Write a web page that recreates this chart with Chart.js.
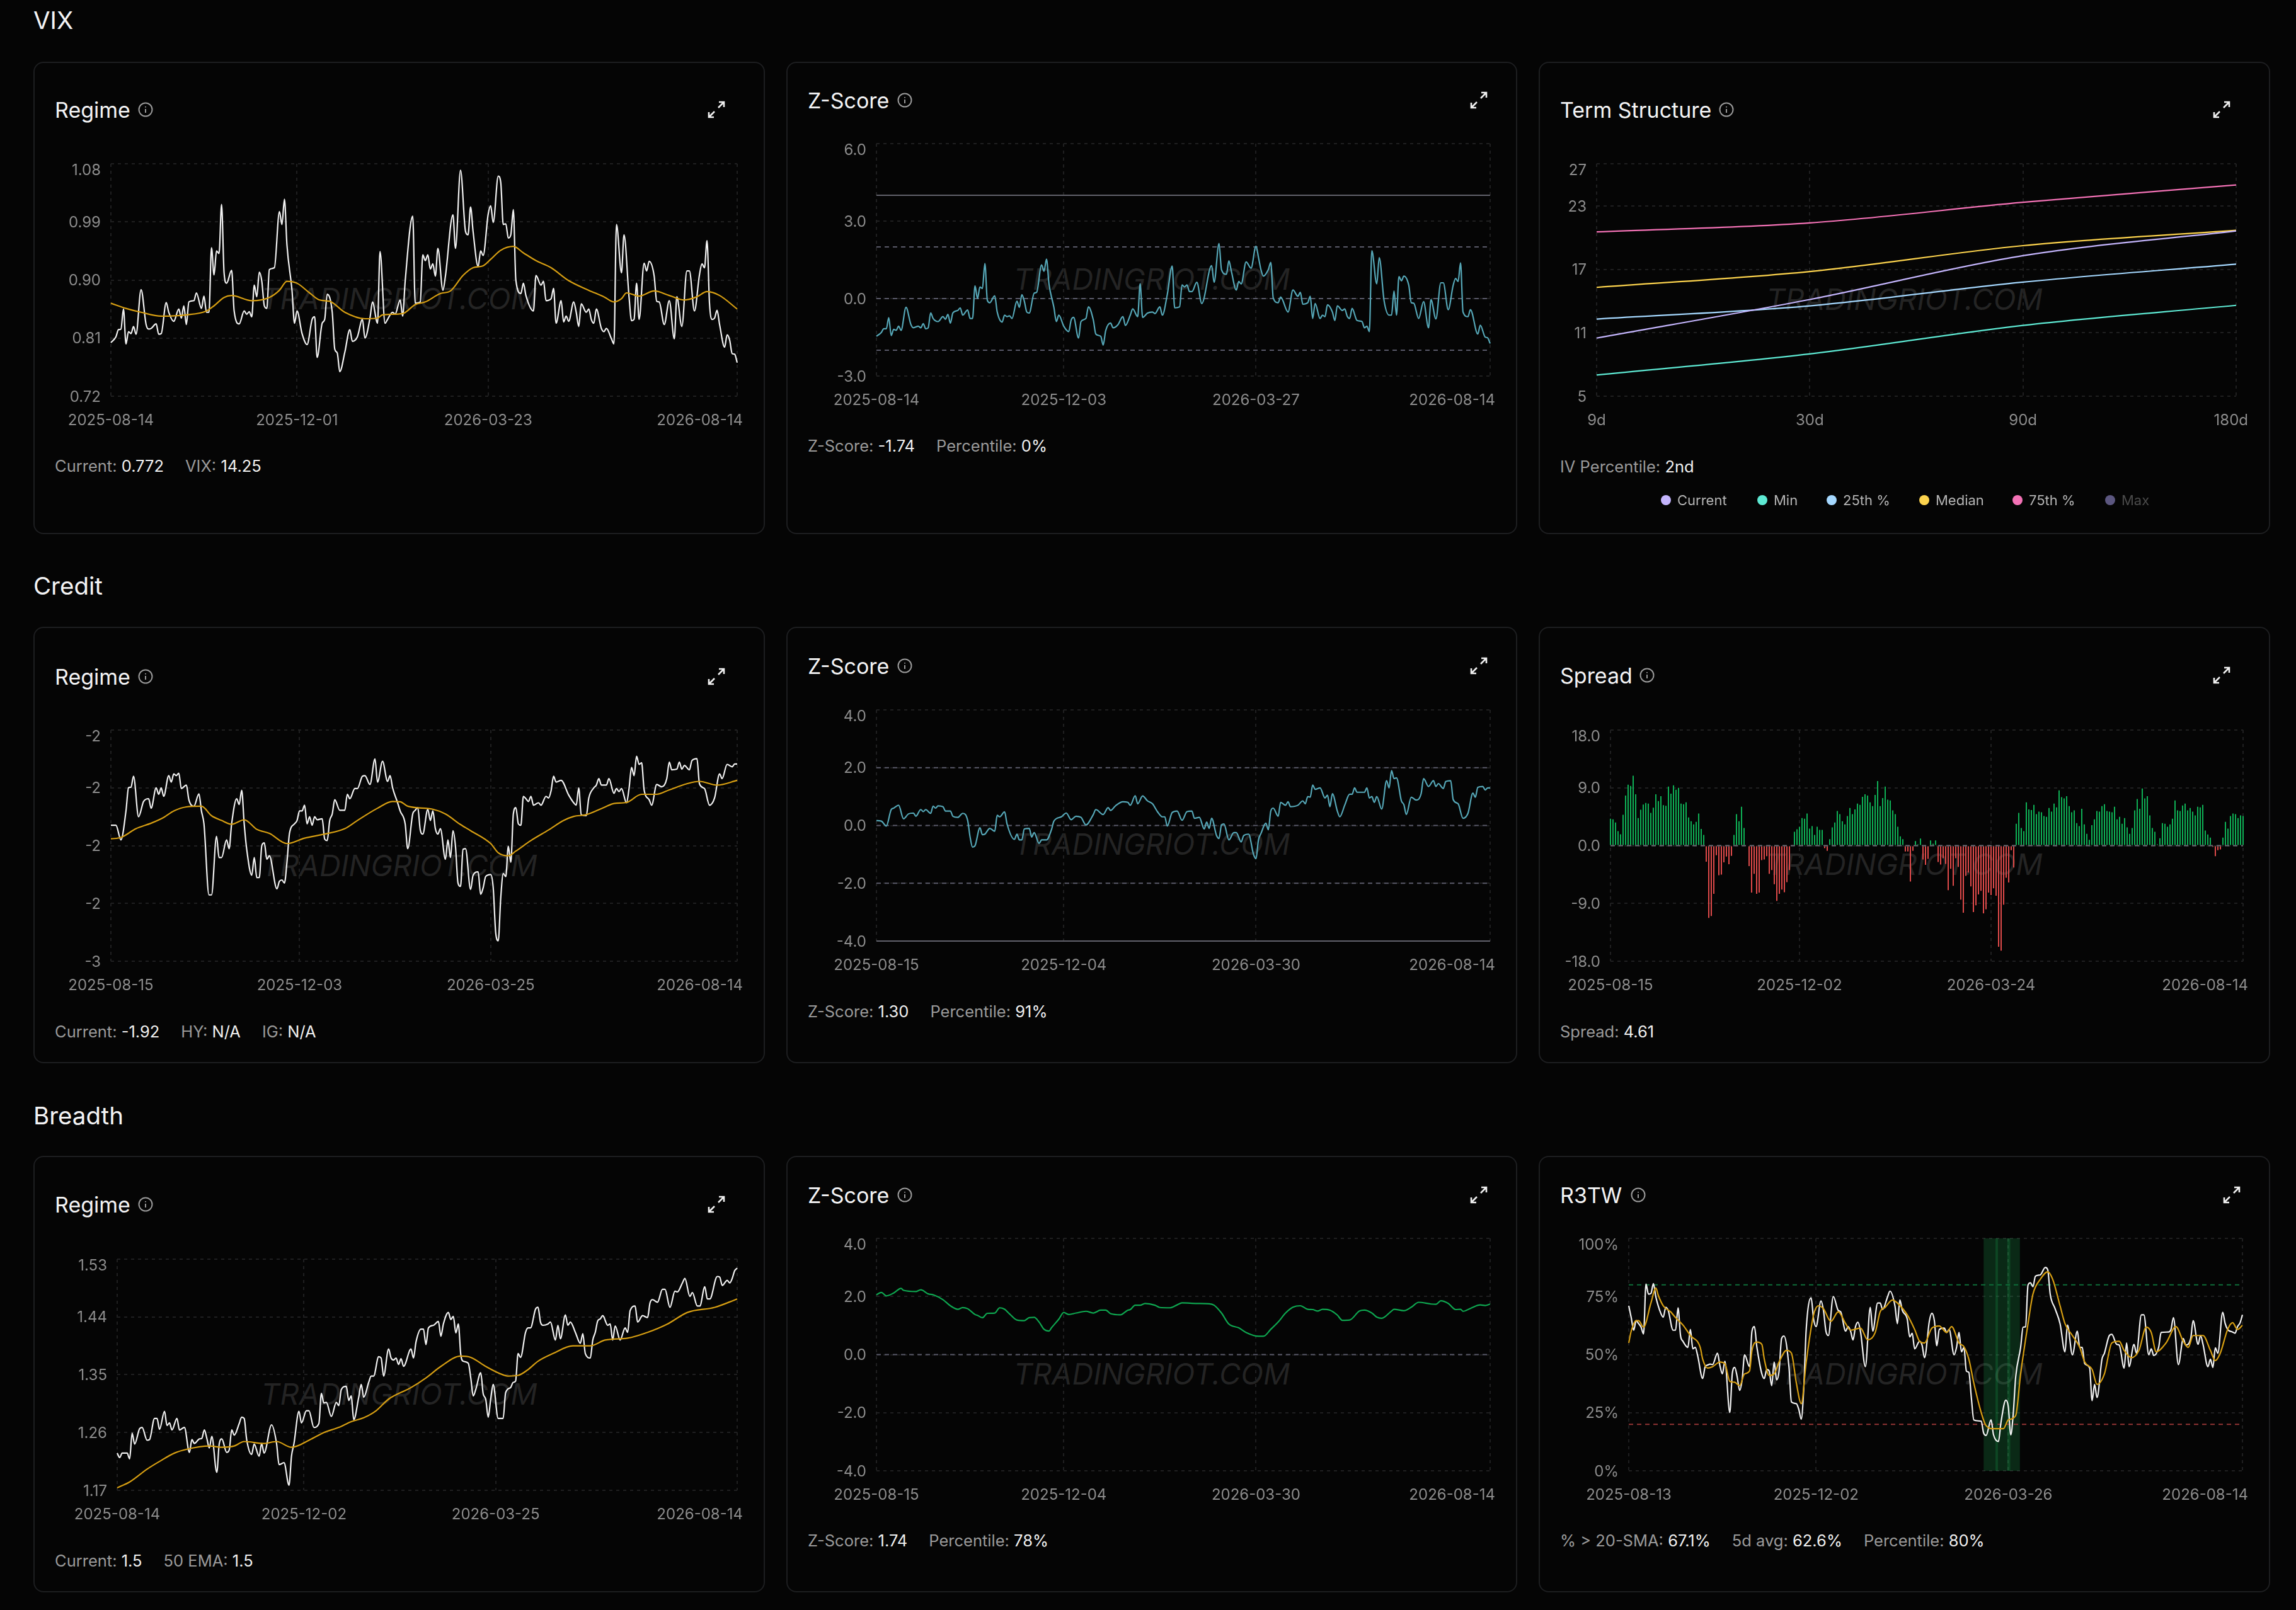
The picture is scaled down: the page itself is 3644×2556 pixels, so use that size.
<!DOCTYPE html>
<html>
<head>
<meta charset="utf-8">
<title>Market Regime</title>
<script src="https://cdn.jsdelivr.net/npm/chart.js@4/dist/chart.umd.js"></script>
<style>
html, body { margin: 0; padding: 0; background: #050505; font-family: Inter, "Noto Sans", sans-serif; }
#page { position: relative; width: 3644px; height: 2556px; overflow: hidden; }
.section { position: absolute; left: 53px; color: #f4f4f5; font-size: 38.5px; line-height: 44px; transform: translateY(-50%); }
.card { position: absolute; box-sizing: border-box; box-shadow: inset 0 0 0 2px #1d1e20; border-radius: 16px; }
.card canvas { position: absolute; left: 0; top: 0; }
.title { position: absolute; color: #f4f4f5; font-size: 34px; line-height: 40px; transform: translateY(-50%); white-space: nowrap; }
.info, .expand { position: absolute; transform: translate(-50%, -50%); }
.footer { position: absolute; color: #9a9a9a; font-size: 25.5px; line-height: 30px; transform: translateY(-50%); white-space: nowrap; }
.footer span { margin-right: 34px; }
.footer b { font-weight: 400; color: #f0f0f0; }
.mark { position: absolute; color: rgba(255,255,255,0.13); font-size: 46.8px; font-style: italic; white-space: nowrap; transform: translate(-50%, -50%); }
.legend { position: absolute; color: #b4b4b4; font-size: 22px; line-height: 28px; transform: translateY(-50%); white-space: nowrap; }
.dot { position: absolute; width: 16px; height: 16px; border-radius: 50%; transform: translate(-50%, -50%); }
</style>
</head>
<body>
<div id="page"></div>
<script>
const vixRegime = [[0,.803],[2,.812],[3,.823],[4,.824],[5,.855],[6,.801],[7,.82],[8,.817],[9,.828],[10,.816],[12,.885],[14,.831],[15,.824],[16,.825],[18,.832],[19,.816],[20,.817],[22,.865],[23,.85],[25,.836],[27,.855],[28,.841],[29,.86],[30,.831],[31,.866],[33,.868],[34,.88],[36,.856],[37,.875],[38,.85],[39,.85],[40,.95],[41,.908],[42,.945],[43,.941],[44,1.017],[45,.911],[46,.895],[48,.915],[49,.852],[51,.832],[53,.852],[54,.847],[55,.851],[56,.843],[57,.892],[58,.874],[59,.912],[60,.898],[61,.86],[62,.856],[63,.916],[65,.919],[67,1.006],[68,.986],[69,1.025],[70,.954],[72,.884],[73,.833],[74,.852],[76,.817],[78,.8],[80,.839],[81,.843],[82,.78],[84,.833],[85,.839],[86,.878],[88,.85],[89,.793],[90,.787],[91,.758],[93,.788],[95,.823],[96,.805],[98,.812],[100,.839],[101,.81],[103,.841],[104,.866],[106,.833],[107,.944],[109,.833],[110,.839],[112,.85],[113,.847],[115,.869],[116,.844],[117,.898],[120,.999],[121,.864],[123,.866],[124,.939],[125,.93],[126,.939],[127,.917],[128,.925],[129,.906],[130,.949],[132,.884],[133,.906],[136,1.001],[137,.949],[139,1.07],[141,.975],[142,.97],[143,1.013],[144,.975],[146,.921],[147,.945],[148,.938],[150,1.002],[151,1.015],[152,.989],[154,1.061],[155,1.051],[156,.986],[157,.987],[158,.965],[159,.97],[160,1.009],[161,.9],[163,.879],[164,.895],[165,.876],[168,.852],[169,.907],[171,.892],[172,.898],[173,.868],[175,.871],[176,.887],[177,.833],[179,.868],[180,.835],[181,.844],[182,.836],[184,.866],[185,.85],[186,.828],[187,.863],[189,.85],[190,.855],[191,.839],[192,.833],[193,.855],[195,.825],[196,.82],[197,.825],[199,.809],[200,.801],[201,.986],[203,.911],[204,.97],[206,.874],[207,.837],[208,.839],[209,.895],[210,.839],[212,.926],[213,.914],[214,.929],[216,.906],[217,.867],[218,.866],[220,.831],[222,.868],[224,.809],[225,.874],[227,.828],[229,.914],[230,.914],[232,.852],[234,.908],[235,.925],[236,.919],[237,.961],[238,.863],[239,.839],[240,.841],[241,.853],[242,.831],[244,.796],[245,.815],[246,.807],[247,.786],[248,.785],[249,.772]];
const vixEma = [[0,.864],[6,.856],[12,.85],[20,.844],[30,.846],[38,.852],[41,.86],[45,.873],[48,.876],[56,.868],[63,.873],[67,.884],[70,.898],[74,.895],[79,.88],[83,.869],[87,.867],[93,.85],[101,.84],[106,.841],[108,.846],[116,.848],[121,.862],[125,.866],[131,.879],[135,.883],[140,.907],[144,.919],[148,.922],[151,.932],[155,.946],[160,.952],[164,.942],[169,.93],[175,.919],[182,.899],[190,.884],[196,.874],[200,.866],[203,.871],[205,.88],[210,.875],[216,.883],[222,.876],[228,.869],[233,.874],[237,.882],[242,.876],[249,.855]];
const vixZ = [[0,-1.46],[2,-1.31],[3,-1.17],[4,-1.17],[5,-.74],[6,-1.43],[7,-1.19],[8,-1.23],[9,-1.07],[10,-1.23],[12,-.34],[14,-1.01],[15,-1.13],[17,-1.07],[18,-1.13],[19,-.97],[20,-1.17],[21,-1.13],[22,-.56],[23,-.77],[25,-.89],[27,-.7],[28,-.8],[29,-.61],[30,-.95],[31,-.56],[33,-.46],[34,-.36],[35,-.64],[37,-.44],[38,-.77],[39,-.77],[40,.49],[41,0],[42,.45],[43,.39],[44,1.36],[45,-.07],[46,-.16],[48,.11],[49,-.52],[51,-.91],[52,-.64],[53,-.7],[54,-.67],[55,-.77],[57,-.1],[58,-.34],[59,.15],[60,-.1],[61,-.52],[62,-.56],[64,.21],[65,.24],[67,1.3],[68,1.06],[69,1.53],[70,.57],[72,-.34],[73,-.89],[74,-.64],[76,-1.07],[78,-1.28],[79,-.83],[80,-.73],[82,-1.53],[83,-.89],[85,-.77],[86,-.32],[88,-.83],[89,-1.37],[91,-1.46],[92,-1.8],[93,-1.25],[95,-.95],[96,-1.13],[98,-1.01],[100,-.7],[101,-1.04],[103,-.64],[104,-.4],[106,-.7],[107,.57],[108,-.73],[110,-.56],[112,-.52],[113,-.58],[115,-.32],[116,-.64],[118,.15],[120,1.26],[121,-.36],[123,-.32],[124,.53],[125,.45],[126,.53],[127,.27],[128,.27],[130,.63],[132,-.19],[136,1.28],[137,.63],[139,2.13],[140,1.12],[142,.94],[143,1.46],[144,1.06],[146,.33],[147,.66],[148,.57],[150,1.42],[152,1.18],[154,2.03],[155,1.6],[156,1.12],[157,.87],[159,1.12],[160,1.4],[161,.02],[163,-.16],[164,.06],[167,-.52],[169,.33],[171,.09],[172,.24],[173,-.22],[175,-.16],[176,.09],[177,-.77],[178,-.19],[180,-.77],[181,-.64],[182,-.7],[183,-.24],[185,-.52],[186,-.85],[187,-.28],[189,-.46],[190,-.4],[191,-.68],[192,-.77],[193,-.38],[195,-.85],[197,-.89],[198,-1.13],[199,-1.07],[200,-1.28],[201,1.85],[203,.57],[204,1.58],[206,-.1],[208,-.64],[209,-.64],[210,.29],[211,-.64],[212,.85],[213,.69],[214,.87],[216,.51],[217,-.16],[218,-.18],[220,-.77],[222,-.12],[224,-1.13],[225,-.04],[227,-.79],[229,.61],[230,.61],[232,-.43],[234,.51],[235,.78],[236,.66],[237,1.38],[238,-.52],[240,-.7],[241,-.43],[244,-1.37],[245,-1.03],[247,-1.49],[248,-1.52],[249,-1.74]];

const termLabels = ["9d", "30d", "90d", "180d"];
const termCurrent = [10.5, 14.15, 18.3, 20.64];
const termMin = [7.0, 9.0, 11.7, 13.6];
const term25 = [12.3, 13.55, 15.8, 17.5];
const termMedian = [15.3, 16.8, 19.25, 20.7];
const term75 = [20.55, 21.4, 23.35, 25.0];

const creditRegime = [[0,-2.1],[2,-2.1],[4,-2.143],[6,-2.058],[7,-1.99],[8,-1.988],[9,-1.956],[11,-2.075],[13,-2.03],[15,-2.022],[16,-2.05],[18,-1.99],[19,-2.009],[20,-1.99],[21,-2.015],[23,-1.954],[24,-1.973],[25,-1.949],[26,-1.954],[27,-1.947],[28,-1.992],[30,-1.982],[31,-2.025],[33,-2.044],[35,-2.008],[36,-2.058],[37,-2.096],[39,-2.305],[40,-2.305],[42,-2.133],[43,-2.195],[44,-2.195],[46,-2.143],[47,-2.169],[48,-2.096],[50,-2.022],[51,-2.039],[52,-1.997],[53,-2.096],[54,-2.171],[56,-2.247],[57,-2.195],[58,-2.254],[59,-2.254],[60,-2.16],[61,-2.152],[62,-2.2],[63,-2.19],[66,-2.287],[67,-2.265],[68,-2.261],[69,-2.27],[70,-2.209],[71,-2.124],[73,-2.096],[74,-2.086],[75,-2.058],[76,-2.058],[77,-2.041],[78,-2.096],[79,-2.075],[80,-2.1],[81,-2.075],[82,-2.084],[84,-2.081],[85,-2.141],[86,-2.145],[87,-2.086],[88,-2.067],[89,-2.025],[91,-2.056],[93,-2.056],[94,-2.009],[95,-2.022],[97,-1.992],[98,-1.992],[100,-1.956],[101,-1.954],[103,-1.98],[105,-1.905],[106,-1.973],[108,-1.912],[110,-1.971],[111,-1.954],[112,-1.99],[114,-2.034],[115,-2.058],[117,-2.096],[118,-2.169],[120,-2.067],[121,-2.056],[122,-2.048],[123,-2.114],[124,-2.126],[126,-2.053],[127,-2.086],[128,-2.058],[129,-2.11],[130,-2.126],[131,-2.11],[133,-2.2],[134,-2.143],[135,-2.195],[136,-2.116],[137,-2.162],[138,-2.27],[139,-2.28],[140,-2.171],[141,-2.169],[143,-2.289],[144,-2.247],[146,-2.237],[147,-2.303],[148,-2.284],[149,-2.251],[151,-2.245],[152,-2.284],[153,-2.417],[154,-2.44],[155,-2.313],[156,-2.242],[157,-2.251],[158,-2.162],[159,-2.209],[160,-2.067],[161,-2.048],[162,-2.096],[163,-2.1],[164,-2.015],[165,-2.022],[166,-2.03],[167,-2.015],[168,-2.041],[170,-2.034],[171,-2.041],[173,-2.015],[174,-2.02],[175,-1.999],[176,-1.956],[177,-1.973],[179,-1.968],[182,-2.011],[184,-2.034],[185,-2.041],[186,-1.99],[187,-2.069],[189,-2.072],[190,-2.02],[192,-1.99],[193,-1.982],[194,-1.963],[195,-1.982],[197,-1.982],[198,-1.963],[200,-2.006],[201,-1.992],[202,-2.001],[203,-1.992],[205,-2.034],[206,-1.992],[207,-1.93],[208,-1.954],[209,-1.897],[210,-1.921],[211,-1.916],[212,-1.996],[214,-2.025],[215,-2.041],[217,-1.98],[219,-1.987],[221,-1.963],[222,-1.914],[223,-1.937],[225,-1.935],[226,-1.914],[227,-1.935],[228,-1.924],[230,-1.937],[231,-1.91],[233,-1.904],[234,-1.978],[236,-1.992],[238,-2.041],[240,-2.02],[242,-1.949],[243,-1.963],[245,-1.921],[247,-1.928],[248,-1.92],[249,-1.92]];
const creditEma = [[0,-2.14],[4,-2.136],[10,-2.11],[16,-2.094],[21,-2.077],[25,-2.058],[30,-2.046],[36,-2.044],[40,-2.072],[44,-2.086],[48,-2.097],[53,-2.084],[58,-2.112],[63,-2.124],[70,-2.154],[77,-2.138],[85,-2.126],[93,-2.11],[98,-2.086],[106,-2.05],[112,-2.03],[115,-2.031],[118,-2.044],[128,-2.053],[133,-2.067],[139,-2.098],[143,-2.116],[151,-2.154],[154,-2.181],[158,-2.19],[161,-2.176],[167,-2.145],[174,-2.114],[180,-2.086],[184,-2.074],[189,-2.069],[196,-2.048],[200,-2.036],[205,-2.033],[211,-2.009],[217,-2.009],[222,-1.996],[229,-1.978],[234,-1.971],[241,-1.982],[249,-1.968]];
const creditZ = [[0,.17],[2,.15],[4,-.02],[6,.55],[7,.6],[9,.7],[11,.23],[13,.4],[15,.43],[16,.32],[18,.55],[19,.48],[20,.55],[22,.42],[23,.67],[24,.6],[25,.68],[27,.65],[28,.5],[30,.5],[31,.32],[33,.28],[35,.42],[37,.18],[38,-.4],[39,-.75],[40,-.7],[42,-.08],[43,-.32],[44,-.3],[46,-.1],[48,-.2],[49,.35],[50,.3],[52,.47],[53,.05],[56,-.48],[57,-.3],[58,-.5],[59,-.5],[60,-.12],[62,-.1],[63,-.4],[64,-.25],[66,-.62],[67,-.5],[69,-.5],[71,-.15],[72,.15],[75,.3],[77,.43],[79,.2],[81,.32],[83,.28],[85,.02],[88,.38],[89,.55],[92,.38],[94,.62],[95,.52],[97,.68],[100,.82],[102,.8],[103,.7],[105,1.03],[106,.75],[108,1.02],[110,.85],[112,.75],[114,.48],[116,.3],[117,.3],[118,-.02],[120,.45],[122,.5],[124,.18],[126,.48],[128,.5],[129,.25],[131,.28],[133,-.12],[134,.12],[135,-.1],[136,.25],[138,-.35],[139,-.45],[140,.02],[141,.05],[143,-.5],[145,-.25],[146,-.25],[148,-.57],[149,-.35],[151,-.3],[153,-1],[154,-1.15],[155,-.5],[156,-.28],[158,.08],[159,-.15],[160,.5],[161,.6],[163,.32],[164,.8],[166,.7],[167,.82],[168,.65],[171,.7],[173,.85],[174,.75],[175,1],[176,.98],[177,1.4],[178,1.25],[180,1.3],[182,.95],[183,1.05],[184,.65],[185,1.1],[187,.5],[188,.3],[190,.7],[192,1.08],[193,1.08],[194,1.3],[195,1.15],[198,1.15],[199,1.3],[200,.95],[201,1],[202,.8],[203,1],[205,.57],[207,1.55],[208,1.3],[209,1.9],[210,1.62],[211,1.65],[213,.85],[214,.72],[215,.38],[217,.98],[219,.88],[221,1.1],[222,1.62],[224,1.35],[226,1.55],[227,1.35],[228,1.45],[230,1.28],[231,1.52],[233,1.55],[234,.9],[236,.75],[238,.25],[240,.42],[242,1.12],[243,.98],[244,1.32],[246,1.35],[247,1.23],[248,1.3],[249,1.3]];
const spreadValues = [4.2,4.1,3.6,2.25,1.76,4.8,7.8,9.5,9.3,10.9,8,4.3,5.6,6.4,6.65,6.55,5.1,5.9,8,6.95,7.7,6.3,6.2,9.2,8.1,9.4,8.7,9,6.55,6.45,6.75,4.4,3.8,3.3,3.7,5,2.6,1.66,-2.5,-11.25,-10.95,-7.5,-1.5,-4.6,-4.5,-2.6,-1.7,-2.9,-1.6,1.66,4.9,3.8,6.05,2.75,0,-3.2,-7.3,-4.4,-7.5,-7.3,-2.25,-2.15,-1.65,-4.4,-3.8,-6,-8.6,-7.5,-6.85,-7.25,-5.7,-3.8,0,2.15,2.55,2.95,4.3,4.2,5,2.65,3.05,1.66,2.95,2.45,2.45,-.4,-.8,1,2.85,3.6,5.4,4.9,3.8,3.3,4.6,5.85,4.9,5.65,6.55,6.35,7.6,8,7.8,6.75,6.15,7.9,10.05,6.15,7.4,9.2,7.15,7.05,5.5,4.9,2.95,1.45,1,-.9,-.9,-5.6,-.8,.7,.2,1.1,-2.15,-3,-2.05,.8,.3,.8,-2.55,-2.95,-1.95,-2.85,-6.95,-3.6,-6.25,-1.95,-3.3,-8.4,-10.45,-4.7,-4.2,-6.35,-10.35,-9.3,-7.6,-7.05,-10.55,-9.9,-7.3,-7.7,-6.65,-7.8,-15.75,-16.35,-9.2,-5,-5.75,-.7,-3.4,3.4,5.1,2.75,2.25,6.75,5.65,5.55,6.35,4.9,5.3,5.2,4.6,4.5,5.85,5.3,6.55,5.95,8.6,7.55,7.35,7.7,6.15,5.2,5.5,3.5,3.05,5.75,3.3,1.85,.9,3.2,4.1,5.4,5.3,6.15,6.45,5.4,5.3,5.2,6.05,4.1,4.5,3.4,4.3,2.85,1.85,2.75,5.5,7.25,5.75,8.9,7.35,7.7,4.7,2.75,2.15,.2,1.15,3.5,3.4,2.95,3.3,4.2,7.05,5.5,5.4,6.25,6.55,5.5,5.85,5.3,4.7,6.05,5.95,6.35,2.35,1.75,1.25,-.2,-1.65,-.7,-.6,1.25,3.7,2.65,4.6,5,4.9,4.3,4.7,4.61];

const breadthRegime = [[0,1.228],[1,1.221],[2,1.228],[4,1.228],[5,1.219],[6,1.259],[7,1.242],[9,1.266],[10,1.268],[12,1.248],[13,1.249],[15,1.282],[16,1.282],[17,1.265],[19,1.293],[20,1.271],[21,1.275],[22,1.264],[24,1.282],[25,1.264],[27,1.268],[29,1.229],[30,1.249],[31,1.243],[33,1.25],[34,1.251],[35,1.264],[36,1.251],[37,1.236],[38,1.254],[40,1.198],[41,1.243],[42,1.25],[44,1.229],[45,1.233],[46,1.264],[47,1.256],[49,1.274],[50,1.284],[51,1.282],[52,1.249],[54,1.226],[55,1.242],[57,1.223],[58,1.243],[59,1.228],[62,1.272],[64,1.243],[65,1.21],[67,1.213],[69,1.178],[70,1.223],[71,1.243],[73,1.293],[74,1.275],[76,1.294],[77,1.294],[79,1.268],[81,1.274],[82,1.321],[83,1.306],[84,1.307],[86,1.285],[88,1.307],[89,1.302],[90,1.327],[92,1.332],[93,1.31],[94,1.317],[95,1.28],[97,1.315],[98,1.335],[99,1.315],[101,1.338],[102,1.348],[103,1.348],[105,1.378],[106,1.376],[107,1.348],[109,1.39],[110,1.376],[111,1.373],[112,1.376],[113,1.366],[114,1.375],[115,1.363],[118,1.39],[119,1.376],[120,1.401],[122,1.421],[123,1.421],[124,1.397],[125,1.423],[127,1.427],[129,1.433],[130,1.41],[131,1.429],[133,1.447],[134,1.436],[135,1.441],[136,1.415],[137,1.429],[138,1.381],[139,1.371],[141,1.368],[142,1.345],[143,1.317],[144,1.327],[146,1.353],[147,1.32],[148,1.312],[149,1.284],[150,1.312],[151,1.335],[153,1.282],[155,1.282],[156,1.322],[158,1.33],[159,1.338],[160,1.34],[161,1.383],[162,1.377],[164,1.416],[165,1.423],[166,1.423],[168,1.452],[169,1.455],[170,1.432],[171,1.427],[173,1.429],[174,1.432],[176,1.404],[177,1.427],[178,1.406],[180,1.443],[181,1.427],[182,1.432],[184,1.416],[186,1.399],[187,1.414],[188,1.383],[190,1.376],[191,1.404],[192,1.416],[193,1.434],[194,1.437],[195,1.442],[197,1.427],[198,1.429],[199,1.404],[200,1.426],[202,1.404],[204,1.423],[205,1.416],[206,1.45],[208,1.457],[209,1.432],[211,1.442],[213,1.439],[214,1.462],[215,1.467],[217,1.463],[219,1.483],[220,1.483],[222,1.455],[224,1.48],[225,1.479],[227,1.493],[228,1.5],[230,1.472],[231,1.478],[233,1.457],[234,1.457],[236,1.487],[237,1.468],[238,1.468],[241,1.503],[242,1.502],[243,1.489],[245,1.497],[246,1.493],[247,1.5],[248,1.512],[249,1.516]];
const breadthEma = [[0,1.174],[5,1.183],[12,1.203],[17,1.215],[23,1.228],[28,1.234],[37,1.239],[42,1.237],[47,1.239],[51,1.246],[59,1.243],[64,1.246],[70,1.237],[78,1.25],[83,1.26],[89,1.268],[94,1.277],[99,1.283],[104,1.294],[109,1.312],[118,1.33],[124,1.345],[130,1.363],[138,1.379],[142,1.377],[148,1.363],[153,1.353],[157,1.348],[161,1.349],[165,1.358],[169,1.371],[175,1.383],[183,1.395],[190,1.395],[196,1.404],[205,1.407],[213,1.416],[221,1.429],[229,1.447],[240,1.455],[249,1.468]];
const breadthZ = [[0,2.06],[2,2.14],[4,2.02],[7,2.12],[10,2.28],[11,2.21],[16,2.17],[18,2.23],[21,2.09],[23,2.06],[27,1.89],[30,1.68],[33,1.56],[35,1.62],[37,1.58],[40,1.38],[41,1.35],[43,1.27],[45,1.42],[48,1.43],[50,1.61],[52,1.56],[54,1.4],[57,1.19],[60,1.17],[62,1.27],[64,1.28],[66,1.12],[68,.87],[70,.81],[71,.92],[74,1.22],[76,1.45],[78,1.38],[81,1.43],[85,1.49],[88,1.43],[91,1.53],[93,1.53],[95,1.41],[99,1.37],[102,1.53],[103,1.55],[105,1.7],[107,1.7],[109,1.76],[113,1.7],[115,1.62],[119,1.61],[122,1.71],[124,1.78],[130,1.76],[135,1.75],[137,1.7],[140,1.43],[143,1.05],[147,.92],[150,.76],[155,.63],[157,.63],[160,.87],[163,1.12],[166,1.43],[169,1.63],[172,1.68],[175,1.56],[177,1.55],[179,1.5],[181,1.56],[184,1.53],[187,1.36],[189,1.18],[192,1.19],[196,1.5],[198,1.53],[201,1.43],[203,1.29],[205,1.25],[209,1.5],[210,1.56],[214,1.51],[217,1.63],[220,1.8],[225,1.74],[227,1.73],[229,1.85],[232,1.76],[235,1.55],[237,1.56],[238,1.49],[241,1.59],[245,1.71],[247,1.69],[249,1.74]];

const r3twPct = [[0,71],[1,65.9],[2,60.5],[3,64.6],[4,63.3],[5,61.8],[6,58.9],[7,80.3],[8,76],[9,76.3],[10,80.5],[11,74.8],[13,67.8],[14,66.1],[15,70.3],[16,69],[18,60.5],[19,60.5],[20,70.1],[21,58.2],[22,55.7],[24,53.1],[25,60.8],[26,52.5],[27,53.1],[28,49.3],[30,39.7],[31,44.8],[32,45.5],[33,45.9],[34,45.7],[36,50.6],[37,45.2],[38,41.7],[39,47.1],[41,25.1],[42,41.7],[43,44.5],[44,40.4],[45,34.6],[46,39.1],[47,49.9],[49,44.8],[50,60.1],[51,62],[52,53.1],[55,39.7],[56,43.6],[57,42.9],[58,36.6],[59,46.8],[60,39.1],[61,42.9],[62,56.9],[63,58],[65,44.8],[66,29.6],[68,28.9],[69,26.4],[70,22.2],[71,35.3],[72,60.8],[74,74.4],[75,65.2],[76,62],[78,73.1],[79,69],[80,60.1],[81,58.2],[83,75],[85,69],[86,68.4],[88,60.1],[89,62],[90,60.1],[91,56.3],[92,62],[93,63.9],[94,60.1],[96,44.8],[98,70.3],[99,60.1],[101,72.2],[102,72.2],[103,69.4],[105,74.8],[106,77.3],[108,71],[109,63.3],[110,73.5],[111,69],[113,65.2],[114,57.6],[115,59.2],[116,52.5],[118,55.7],[119,54.1],[120,48.7],[122,64.6],[123,67.8],[124,64.6],[125,53.8],[126,60.8],[128,61.4],[129,59.5],[130,60.8],[132,49.9],[133,53.1],[134,59.5],[135,51.2],[136,53.1],[137,42.9],[138,42.3],[139,31.5],[140,21.9],[143,21.3],[144,16.2],[145,15.2],[147,21.9],[148,15.5],[150,12.6],[151,20.6],[153,30.4],[154,27.6],[155,15.5],[156,24.5],[157,40.4],[159,53.1],[160,61.8],[161,62],[162,79.9],[163,80.9],[164,79.2],[165,83.7],[167,84.3],[169,87.5],[170,86.5],[171,76],[173,69.7],[175,63.3],[177,51.2],[178,62.7],[180,49.9],[182,60.1],[183,53.1],[184,53.1],[185,46.1],[187,44.2],[188,30.2],[189,37.2],[190,31.5],[192,48],[193,50.6],[195,58.2],[196,58.7],[198,54.4],[199,54.1],[201,44.2],[202,55],[203,44.8],[205,54.4],[206,50.6],[208,67.1],[209,67.1],[211,49.9],[212,52.5],[213,49.6],[215,53.1],[216,59.5],[219,59.7],[220,60.8],[221,65.9],[223,45.7],[225,56.9],[226,54.1],[228,56.9],[229,64.6],[231,54.4],[232,58.2],[233,54.4],[235,44.8],[236,48],[237,44.5],[238,52.9],[239,50.6],[241,68.2],[242,63.3],[243,60.8],[245,59.7],[246,59.2],[247,62],[248,63.6],[249,67.1]];
const r3twAvg = [[0,55],[1,60.1],[3,64.6],[4,64.6],[6,61.8],[9,72.2],[11,78.6],[12,75.4],[14,71],[17,68.4],[19,65.9],[22,62.7],[25,58.2],[29,53.1],[30,48],[32,44.2],[34,44.8],[37,46.8],[39,46.1],[41,38.5],[43,38.1],[45,36.6],[47,41.7],[49,42.9],[50,51.8],[52,55.4],[54,54.4],[55,48],[57,41],[59,41.7],[61,46.8],[64,51.8],[66,50.6],[68,37.8],[70,28.9],[72,46.8],[75,67.1],[77,71],[79,69.7],[82,64.3],[85,68.4],[88,63.3],[90,60.5],[94,61.4],[97,56.3],[100,59.5],[102,68.4],[104,70.3],[107,73.5],[109,72.2],[113,67.1],[116,60.8],[118,55.7],[120,55],[123,61.4],[126,62.3],[129,59.5],[131,62],[134,55],[136,53.4],[138,48],[140,37.8],[143,25.1],[145,19.4],[148,18.1],[152,18.1],[154,21.9],[157,23.8],[159,41.7],[162,63.3],[164,76],[167,82.4],[170,85.6],[172,82.4],[175,71],[177,63.3],[180,58.2],[183,53.1],[185,46.8],[188,43.6],[190,37.2],[193,41.7],[196,55],[199,55.7],[201,51.8],[204,48.7],[207,51.8],[210,61.8],[212,59.5],[214,51.2],[218,55],[222,62],[225,55.7],[227,53.1],[229,58.2],[233,58.2],[236,51.8],[238,47.4],[240,50.6],[243,60.8],[245,63.7],[247,60.8],[249,62.6]];
const r3twBands = [[144, 149.8], [148.8, 154.8], [153.6, 158.7]];

const WHITE = "#f2f2f2", GOLD = "#d69e12", TEAL = "#56a8b8", GREEN = "#0ea750";
const REF = "#595968", REF_SOLID = "#62626c";
const GRID = "#1f1f20", TICK = "#8c8c8c";

const tickLabelNudge = {
    id: "tickLabelNudge",
    beforeDraw(chart) {
        const xs = chart.scales.x.getLabelItems();
        const ys = chart.scales.y.getLabelItems();
        if (xs.nudged) return;
        xs.nudged = true;
        const last = xs[xs.length - 1].options;
        last.textAlign = "right";
        last.translation[0] = chart.width - 35;
        ys.forEach(item => { item.options.translation[1] += 1.5; });
        ys[ys.length - 1].options.translation[1] += 9;
    }
};

function shadeBands(bands) {
    return {
        id: "shadeBands",
        beforeDatasetsDraw(chart) {
            const { ctx, chartArea, scales } = chart;
            ctx.save();
            ctx.fillStyle = "rgba(34,197,94,0.19)";
            bands.forEach(([a, b]) => {
                const x0 = scales.x.getPixelForValue(a), x1 = scales.x.getPixelForValue(b);
                ctx.fillRect(x0, chartArea.top, x1 - x0, chartArea.height);
            });
            ctx.restore();
        }
    };
}

const toPoints = pairs => pairs.map(([x, y]) => ({ x, y }));
const line = (pairs, color, width = 2.2) => ({
    type: "line", data: toPoints(pairs), borderColor: color, borderWidth: width,
    pointRadius: 0, cubicInterpolationMode: "monotone", clip: false, order: 1
});
const refLine = (y, color, maxX, solid) => ({
    type: "line", data: [{ x: 0, y }, { x: maxX, y }], borderColor: color, borderWidth: 2,
    borderDash: solid ? [] : [7, 6], pointRadius: 0, clip: false, order: 2
});

function makeCard(c) {
    const page = document.getElementById("page");
    const el = document.createElement("div");
    el.className = "card";
    el.style.cssText = `left:${c.x}px;top:${c.y}px;width:${c.w}px;height:${c.h}px`;
    const expand = `<svg width="30" height="30" viewBox="0 0 30 30" fill="none" stroke="#f0f0f0" stroke-width="2.6"><path d="M19 3h8v8M27 3l-9 9M3 19v8h8M3 27l9-9"/></svg>`;
    const info = `<svg width="26" height="26" viewBox="0 0 26 26" fill="none" stroke="#9a9a9a" stroke-width="2"><circle cx="13" cy="13" r="10.5"/><path d="M13 12v6M13 8v1.6"/></svg>`;
    el.innerHTML = `<div class="mark" style="left:${c.w / 2}px;top:${c.markY - c.y}px">TRADINGRIOT.COM</div>
        <div class="title" style="left:${c.titleX - c.x}px;top:${c.titleY - c.y}px">${c.title}</div>
        <div class="info" style="left:${c.infoX - c.x}px;top:${c.titleY - c.y + 1}px">${info}</div>
        <div class="expand" style="left:${c.expandX - c.x}px;top:${c.titleY - c.y + 1}px">${expand}</div>
        <div class="footer" style="left:${c.titleX - c.x}px;top:${c.footerY - c.y}px">${c.footer.map(([k, v]) => `<span>${k} <b>${v}</b></span>`).join("")}</div>
        <canvas width="${c.w}" height="${c.h}"></canvas>`;
    page.appendChild(el);
    return el;
}

function draw(c) {
    const el = makeCard(c);
    new Chart(el.querySelector("canvas"), {
        type: c.type || "line",
        data: { datasets: c.datasets },
        plugins: c.bands ? [tickLabelNudge, shadeBands(c.bands)] : [tickLabelNudge],
        options: {
            responsive: false,
            devicePixelRatio: 1,
            animation: false,
            layout: { padding: { left: 0, top: c.plot[1] - c.y, right: c.x + c.w - c.plot[2], bottom: 0 } },
            plugins: { legend: { display: false }, tooltip: { enabled: false } },
            scales: {
                x: {
                    type: "linear", min: 0, max: c.maxX, offset: false,
                    grid: { color: GRID, lineWidth: 2, drawTicks: false, offset: false },
                    border: { display: false, dash: [5, 6] },
                    ticks: {
                        color: TICK, font: { size: 24 }, padding: 24, autoSkip: false, maxRotation: 0, minRotation: 0,
                        callback: (v, i) => c.xLabels[i]
                    },
                    afterBuildTicks: s => { s.ticks = c.xTicks.map(value => ({ value })); },
                    afterFit: s => {
                        s.height = c.y + c.h - c.plot[3];
                        s.paddingLeft = s.paddingRight = 0;
                    }
                },
                y: {
                    type: "linear", min: c.yTicks[0], max: c.yTicks[c.yTicks.length - 1],
                    grid: { color: GRID, lineWidth: 2, drawTicks: false },
                    border: { display: false, dash: [5, 6] },
                    ticks: {
                        color: TICK, font: { size: 24 }, padding: 16,
                        callback: c.yFormat
                    },
                    afterBuildTicks: s => { s.ticks = c.yTicks.map(value => ({ value })); },
                    afterFit: s => {
                        s.width = c.plot[0] - c.x;
                        s.paddingTop = s.paddingBottom = 0;
                    }
                }
            }
        }
    });
    return el;
}

Chart.defaults.font.family = "Inter";

const fixed = n => v => v.toFixed(n);
const col1 = { x: 53, w: 1161, titleX: 87, infoX: 231, expandX: 1137 };
const col2 = { x: 1248, w: 1160, titleX: 1282, infoX: 1436, expandX: 2347 };
const col3 = { x: 2442, w: 1161, titleX: 2476, expandX: 3526 };
const row1 = { y: 98, h: 750 }, row2 = { y: 995, h: 693 }, row3 = { y: 1835, h: 693 };

document.getElementById("page").innerHTML =
    `<div class="section" style="top:32px">VIX</div><div class="section" style="top:930px">Credit</div><div class="section" style="top:1771px">Breadth</div>`;

draw({
    ...col1, ...row1, title: "Regime", titleY: 175, markY: 474, footerY: 740,
    footer: [["Current:", "0.772"], ["VIX:", "14.25"]],
    plot: [176, 260, 1170, 629], maxX: 249,
    xTicks: [0, 74, 150, 249], xLabels: ["2025-08-14", "2025-12-01", "2026-03-23", "2026-08-14"],
    yTicks: [.72, .81, .90, .99, 1.08], yFormat: fixed(2),
    datasets: [line(vixEma, GOLD), line(vixRegime, WHITE)]
});
draw({
    ...col2, ...row1, title: "Z-Score", titleY: 160, markY: 443, footerY: 708,
    footer: [["Z-Score:", "-1.74"], ["Percentile:", "0%"]],
    plot: [1391, 228, 2365, 597], maxX: 249,
    xTicks: [0, 76, 154, 249], xLabels: ["2025-08-14", "2025-12-03", "2026-03-27", "2026-08-14"],
    yTicks: [-3, 0, 3, 6], yFormat: fixed(1),
    datasets: [line(vixZ, TEAL), refLine(4, REF_SOLID, 249, true), refLine(2, REF, 249), refLine(0, REF, 249), refLine(-2, REF, 249)]
});
const termEl = draw({
    ...col3, ...row1, title: "Term Structure", titleY: 175, infoX: 2740, markY: 475, footerY: 741,
    footer: [["IV Percentile:", "2nd"]],
    plot: [2534, 260, 3549, 629], maxX: 3,
    xTicks: [0, 1, 2, 3], xLabels: termLabels,
    yTicks: [5, 11, 17, 23, 27], yFormat: fixed(0),
    datasets: [
        line(termCurrent.map((v, i) => [i, v]), "#c4b5fd"),
        line(termMin.map((v, i) => [i, v]), "#5eead4"),
        line(term25.map((v, i) => [i, v]), "#a5d8ff"),
        line(termMedian.map((v, i) => [i, v]), "#fcd34d"),
        line(term75.map((v, i) => [i, v]), "#f472b6")
    ]
});
[["Current", "#c4b5fd", 2644], ["Min", "#5eead4", 2797], ["25th %", "#a5d8ff", 2907], ["Median", "#fcd34d", 3054], ["75th %", "#f472b6", 3202], ["Max", "#5c5780", 3349]].forEach(([name, color, x]) => {
    const top = 794 - row1.y;
    termEl.insertAdjacentHTML("beforeend",
        `<div class="dot" style="left:${x - col3.x}px;top:${top}px;background:${color}"></div>
         <div class="legend" style="left:${x - col3.x + 18}px;top:${top}px;${name === "Max" ? "color:#4a4a4a" : ""}">${name}</div>`);
});

draw({
    ...col1, ...row2, title: "Regime", titleY: 1074.5, markY: 1374, footerY: 1638,
    footer: [["Current:", "-1.92"], ["HY:", "N/A"], ["IG:", "N/A"]],
    plot: [176, 1159, 1170, 1526], maxX: 249,
    xTicks: [0, 75, 151, 249], xLabels: ["2025-08-15", "2025-12-03", "2026-03-25", "2026-08-14"],
    yTicks: [-2.5, -2.33, -2.16, -1.99, -1.82], yFormat: fixed(0),
    datasets: [line(creditEma, GOLD), line(creditRegime, WHITE)]
});
draw({
    ...col2, ...row2, title: "Z-Score", titleY: 1058, markY: 1340, footerY: 1606,
    footer: [["Z-Score:", "1.30"], ["Percentile:", "91%"]],
    plot: [1391, 1127, 2365, 1494], maxX: 249,
    xTicks: [0, 76, 154, 249], xLabels: ["2025-08-15", "2025-12-04", "2026-03-30", "2026-08-14"],
    yTicks: [-4, -2, 0, 2, 4], yFormat: fixed(1),
    datasets: [line(creditZ, TEAL), refLine(-4, REF_SOLID, 249, true), refLine(2, REF, 249), refLine(0, REF, 249), refLine(-2, REF, 249)]
});
const spreadMax = spreadValues.length - 1;
draw({
    ...col3, ...row2, type: "bar", title: "Spread", titleY: 1073, infoX: 2614, markY: 1372, footerY: 1638,
    footer: [["Spread:", "4.61"]],
    plot: [2556, 1159, 2556 + 4 * spreadMax, 1526], maxX: spreadMax,
    xTicks: [0, 75, 151, spreadMax], xLabels: ["2025-08-15", "2025-12-02", "2026-03-24", "2026-08-14"],
    yTicks: [-18, -9, 0, 9, 18], yFormat: fixed(1),
    datasets: [
        refLine(0, "#6b6b75", spreadMax),
        {
            type: "bar", data: spreadValues.map((y, x) => ({ x, y })), barThickness: 2, inflateAmount: 0, clip: false, order: 3,
            backgroundColor: spreadValues.map(v => v >= 0 ? "#0eb055" : "#e04a4a")
        }
    ]
});

draw({
    ...col1, ...row3, title: "Regime", titleY: 1913, markY: 2213, footerY: 2478,
    footer: [["Current:", "1.5"], ["50 EMA:", "1.5"]],
    plot: [186, 1999, 1170, 2366], maxX: 249,
    xTicks: [0, 75, 152, 249], xLabels: ["2025-08-14", "2025-12-02", "2026-03-25", "2026-08-14"],
    yTicks: [1.17, 1.26, 1.35, 1.44, 1.53], yFormat: fixed(2),
    datasets: [line(breadthEma, GOLD), line(breadthRegime, WHITE)]
});
draw({
    ...col2, ...row3, title: "Z-Score", titleY: 1897.5, markY: 2181, footerY: 2446,
    footer: [["Z-Score:", "1.74"], ["Percentile:", "78%"]],
    plot: [1391, 1966, 2365, 2335], maxX: 249,
    xTicks: [0, 76, 154, 249], xLabels: ["2025-08-15", "2025-12-04", "2026-03-30", "2026-08-14"],
    yTicks: [-4, -2, 0, 2, 4], yFormat: fixed(1),
    datasets: [line(breadthZ, GREEN), refLine(0, REF, 249)]
});
draw({
    ...col3, ...row3, expandX: 3542, title: "R3TW", titleY: 1897.5, infoX: 2600, markY: 2181, footerY: 2446,
    footer: [["% &gt; 20-SMA:", "67.1%"], ["5d avg:", "62.6%"], ["Percentile:", "80%"]],
    plot: [2585, 1966, 3559, 2335], maxX: 249, bands: r3twBands,
    xTicks: [0, 76, 154, 249], xLabels: ["2025-08-13", "2025-12-02", "2026-03-26", "2026-08-14"],
    yTicks: [0, 25, 50, 75, 100], yFormat: v => v + "%",
    datasets: [line(r3twAvg, GOLD), line(r3twPct, WHITE), refLine(80, "#0e6b38", 249), refLine(20, "#933535", 249)]
});
</script>
</body>
</html>
